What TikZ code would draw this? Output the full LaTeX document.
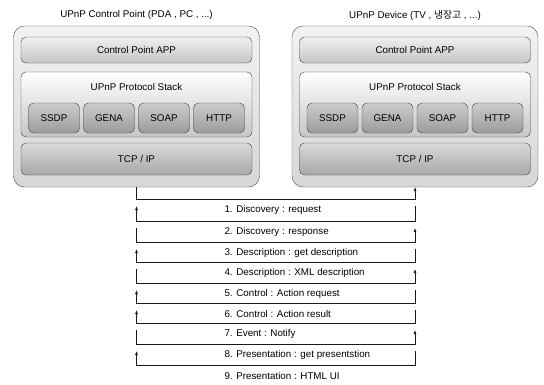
\documentclass[tikz,border=0pt]{standalone}
\usepackage{fontspec}
\setmainfont{Liberation Sans}
\newfontfamily\krfont{Noto Sans CJK KR}
\usetikzlibrary{arrows.meta}

\begin{document}
\begin{tikzpicture}[
  x = 1pt, y = -1pt,
  font = \fontsize{9.8pt}{11pt}\selectfont,
  side/.style = {
    shape = rectangle,
    draw = gray!60!black,
    rounded corners = 11pt,
    top color = gray!10,
    bottom color = gray!32,
    minimum width = 246pt,
    minimum height = 161pt,
    inner sep = 0pt,
    outer sep = 0pt,
  },
  layer/.style = {
    shape = rectangle,
    draw = gray!50!black,
    rounded corners = 5pt,
    minimum width = 231pt,
    inner sep = 0pt,
    outer sep = 0pt,
  },
  proto/.style = {
    layer,
    minimum width = 51pt,
    minimum height = 30pt,
    top color = gray!40,
    bottom color = gray!78,
  },
  msg/.style = {
    draw = gray!20!black,
    line width = 0.6pt,
    -{Latex[length = 4pt, width = 3pt]},
  }
]
  \useasboundingbox (0, 0) rectangle (544, 384);

  \foreach \s/\cx/\title in {
      cp/136.5/{UPnP Control Point (PDA , PC , ...)},
      dev/415/{UPnP Device (TV , {\krfont 냉장고} , ...)}} {
    \node (\s title) at (\cx, 15) {\title};
    \node[side] (\s box) at (\cx, 106.5) {};
    \node[layer, minimum height = 26pt, top color = gray!12, bottom color = gray!45]
      (\s app) at (\cx, 50) {Control Point APP};
    \node[layer, minimum height = 65pt, top color = white, bottom color = gray!45]
      (\s stack) at (\cx, 104.5) {};
    \node (\s stacktext) at (\cx, 87) {UPnP Protocol Stack};
    \node[proto] (\s ssdp) at (\cx - 82.5, 118) {SSDP};
    \node[proto] (\s gena) at (\cx - 27.5, 118) {GENA};
    \node[proto] (\s soap) at (\cx + 27.5, 118) {SOAP};
    \node[proto] (\s http) at (\cx + 82.5, 118) {HTTP};
    \node[layer, minimum height = 32pt, top color = gray!30, bottom color = gray!68]
      (\s tcp) at (\cx, 159) {TCP / IP};
  }

  % message flow between the two boxes
  \foreach \k/\yt/\yb/\from/\to/\txt in {
      1/187/199/cp/dev/{1. Discovery : request},
      2/206/221/dev/cp/{2. Discovery : response},
      3/228/242/cp/dev/{3. Description : get description},
      4/249/262/dev/cp/{4. Description : XML description},
      5/269/283/cp/dev/{5. Control : Action request},
      6/290/303/dev/cp/{6. Control : Action result},
      7/310/323/dev/cp/{7. Event : Notify},
      8/330/344/cp/dev/{8. Presentation : get presentstion},
      9/351/365/dev/cp/{9. Presentation : HTML UI}} {
    \draw[msg] (\from box.south |- 0,\yt) -- (\from box.south |- 0,\yb)
      -| (\to box.south |- 0,\yt);
    \node[anchor = west] (m\k) at (221, \yb + 10.5) {\txt};
  }
\end{tikzpicture}
\end{document}
